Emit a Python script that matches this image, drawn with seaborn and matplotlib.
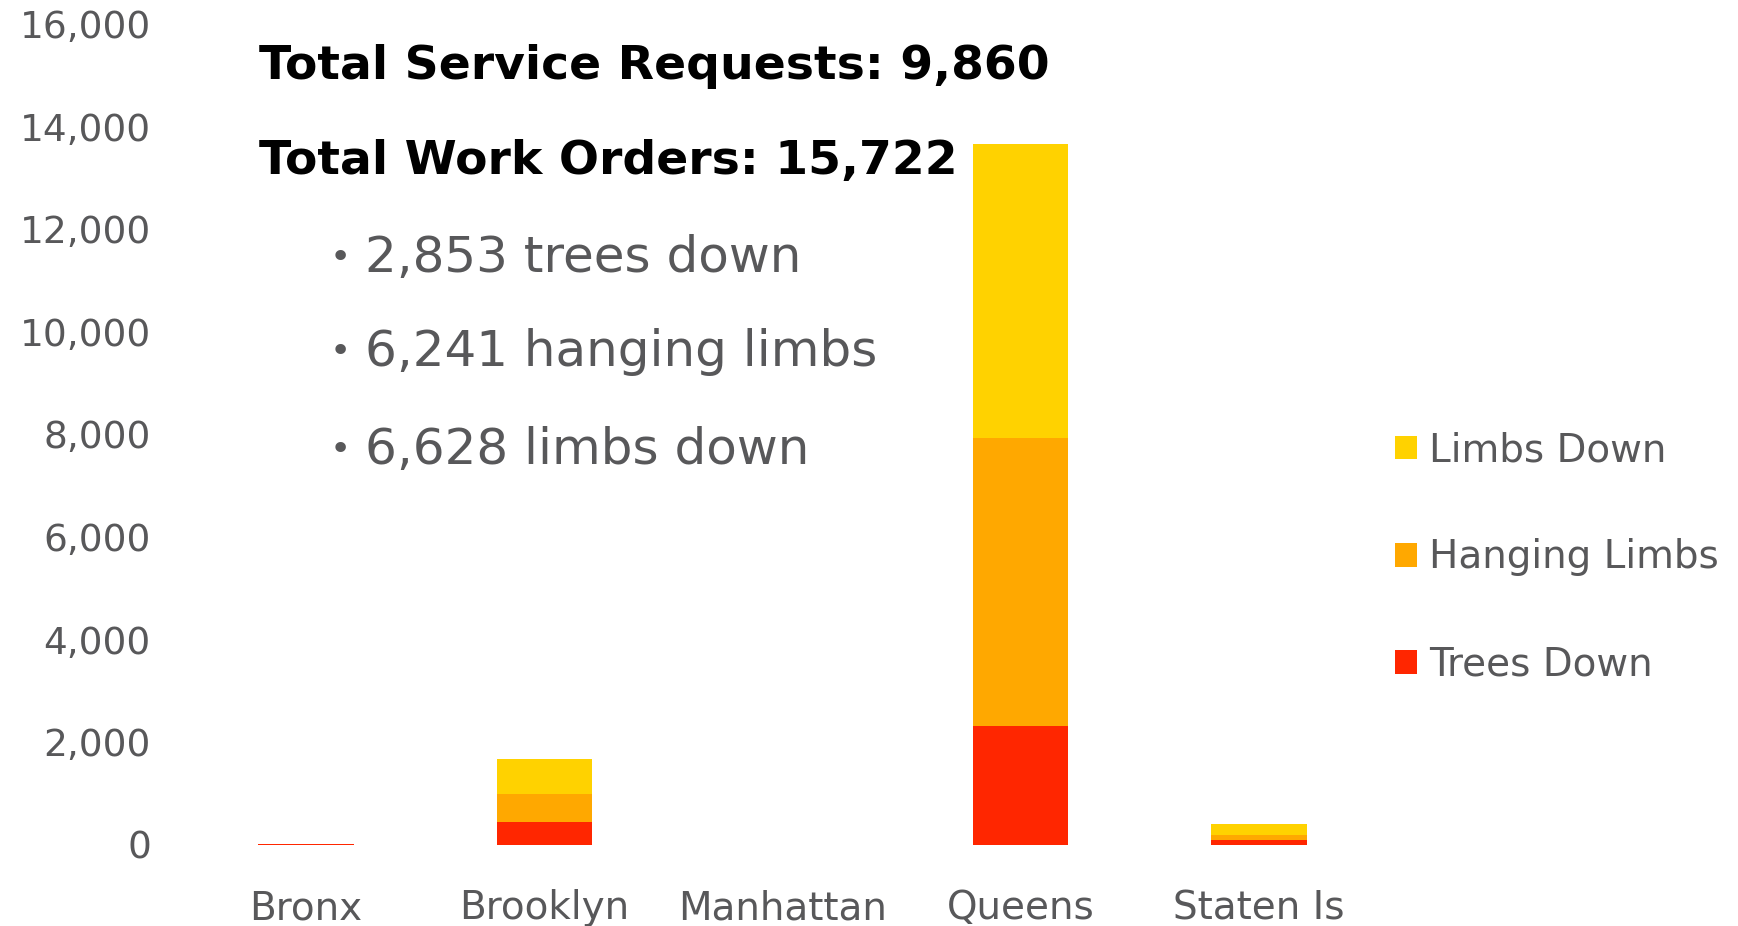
#!/usr/bin/env python3
"""Storm tree damage work orders by borough, stacked bars."""

import matplotlib

matplotlib.use("Agg")

import matplotlib.pyplot as plt
import pandas as pd
import seaborn as sns

BOROUGHS = ["Bronx", "Brooklyn", "Manhattan", "Queens", "Staten Is"]
TREES_DOWN = [20, 440, 0, 2315, 86]
HANGING_LIMBS = [0, 545, 0, 5620, 92]
LIMBS_DOWN = [0, 684, 0, 5736, 215]

SERIES = ["Limbs Down", "Hanging Limbs", "Trees Down"]
COLORS = {"Limbs Down": "#FFD200", "Hanging Limbs": "#FFA800", "Trees Down": "#FF2600"}

HEADLINES = ["Total Service Requests: 9,860", "Total Work Orders: 15,722"]
BULLETS = ["2,853 trees down", "6,241 hanging limbs", "6,628 limbs down"]

Y_TICKS = [0, 2000, 4000, 6000, 8000, 10000, 12000, 14000, 16000]

GREY = "#58585a"


def main() -> None:
    sns.set_theme(style="white")
    plt.rcParams["font.family"] = ["DejaVu Sans"]

    df = pd.DataFrame(
        {
            "borough": BOROUGHS,
            "Trees Down": TREES_DOWN,
            "Hanging Limbs": HANGING_LIMBS,
            "Limbs Down": LIMBS_DOWN,
        }
    )
    # cumulative heights so the bars can be layered tallest first
    df["cum_trees"] = df["Trees Down"]
    df["cum_hanging"] = df["cum_trees"] + df["Hanging Limbs"]
    df["cum_limbs"] = df["cum_hanging"] + df["Limbs Down"]
    layer_cols = {"Limbs Down": "cum_limbs", "Hanging Limbs": "cum_hanging", "Trees Down": "cum_trees"}

    fig = plt.figure(figsize=(17.38, 9.26), dpi=100)
    ax = fig.add_axes([0.1076, 0.0879, 0.6853, 0.8858])

    for name in SERIES:
        sns.barplot(
            data=df,
            x="borough",
            y=layer_cols[name],
            color=COLORS[name],
            width=0.4,
            saturation=1,
            linewidth=0,
            label=name,
            ax=ax,
        )

    ax.set_ylim(0, 16000)
    ax.set_yticks(Y_TICKS)
    ax.set_yticklabels([f"{v:,}" for v in Y_TICKS])
    ax.set_xlabel("")
    ax.set_ylabel("")
    ax.tick_params(axis="y", length=0, pad=26, labelsize=27, labelcolor=GREY)
    ax.tick_params(axis="x", length=0, pad=32, labelsize=28, labelcolor=GREY)
    sns.despine(ax=ax, left=True, bottom=True)

    leg = ax.legend(
        loc="center left",
        bbox_to_anchor=(0.8027, 0.398),
        bbox_transform=fig.transFigure,
        frameon=False,
        fontsize=28,
        handlelength=0.57,
        handleheight=0.57,
        handletextpad=0.3,
        labelspacing=1.78,
        borderpad=0,
        borderaxespad=0,
    )
    for text in leg.get_texts():
        text.set_color(GREY)

    for y, line in zip([0.928, 0.826], HEADLINES):
        fig.text(0.149, y, line, fontsize=34, fontweight="bold", color="black", va="center")
    for y, line in zip([0.7214, 0.6199, 0.514], BULLETS):
        fig.text(0.1894, y, "\u2022", fontsize=26, color=GREY, va="center")
        fig.text(0.210, y, line, fontsize=36, color=GREY, va="center")

    fig.savefig("out.png", dpi=100)
    plt.close(fig)


if __name__ == "__main__":
    main()
